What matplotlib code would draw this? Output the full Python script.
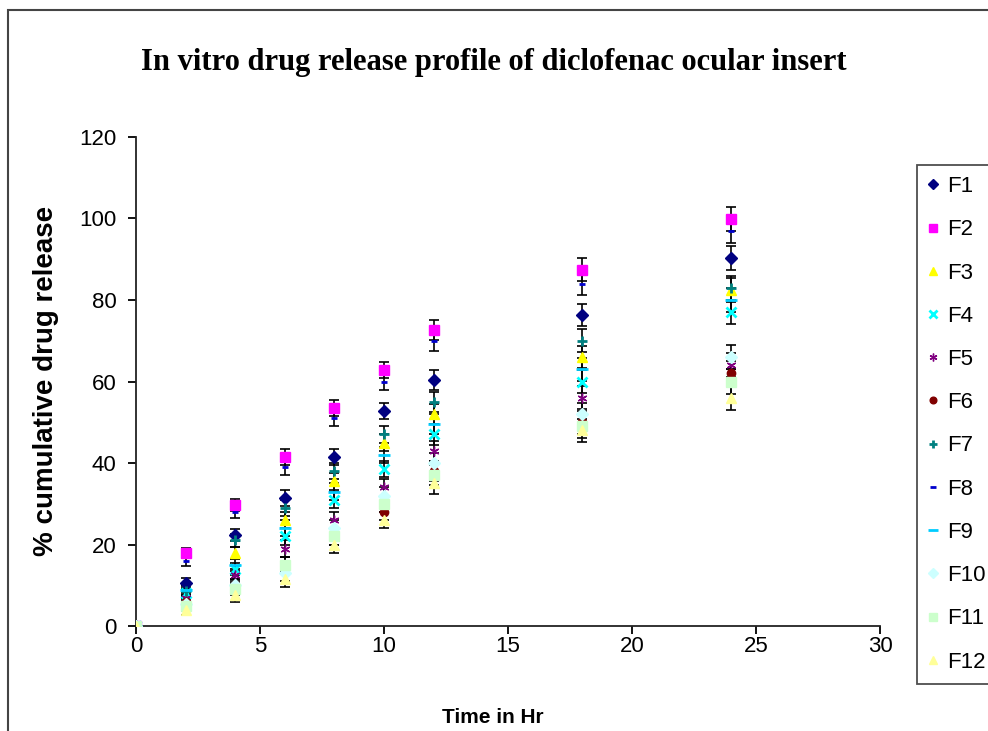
import matplotlib
matplotlib.use('Agg')
import matplotlib.pyplot as plt
from matplotlib.patches import Rectangle

# sampling times (hr)
time_hr = [0, 2, 4, 6, 8, 10, 12, 18, 24]

# % cumulative drug release
f1 = [0, 10.5, 22.3, 31.4, 41.5, 52.8, 60.4, 76.3, 90.3]
f2 = [0, 17.9, 29.7, 41.5, 53.5, 62.8, 72.6, 87.4, 99.9]
f3 = [0, 6.5, 18.0, 26.0, 35.5, 45.0, 52.0, 66.0, 82.5]
f4 = [0, 8.0, 14.0, 22.0, 31.0, 38.5, 47.0, 60.0, 77.0]
f5 = [0, 7.0, 12.5, 19.0, 26.0, 34.0, 43.0, 56.0, 64.0]
f6 = [0, 6.0, 10.0, 15.0, 22.0, 28.0, 38.0, 50.0, 62.0]
f7 = [0, 8.5, 21.0, 29.0, 38.0, 47.0, 55.0, 70.0, 83.0]
f8 = [0, 16.0, 28.0, 39.0, 51.0, 60.0, 70.0, 84.0, 97.0]
f9 = [0, 8.8, 15.0, 24.0, 33.0, 42.0, 49.5, 63.0, 80.0]
f10 = [0, 5.5, 10.0, 13.0, 24.0, 32.0, 40.0, 52.0, 66.0]
f11 = [0, 5.0, 9.0, 15.0, 22.0, 30.0, 37.0, 49.0, 60.0]
f12 = [0, 4.0, 7.5, 11.5, 20.0, 26.0, 35.0, 48.0, 56.0]

# standard deviation per time point (approx.)
sd = [0, 1.2, 1.5, 2.0, 2.0, 2.0, 2.5, 2.8, 3.0]

labels = ['F1', 'F2', 'F3', 'F4', 'F5', 'F6', 'F7', 'F8', 'F9', 'F10', 'F11', 'F12']
series = [f1, f2, f3, f4, f5, f6, f7, f8, f9, f10, f11, f12]
colors = ['#000080', '#FF00FF', '#FFFF00', '#00FFFF', '#800080', '#800000',
          '#008080', '#0000CC', '#00CCFF', '#CCFFFF', '#CCFFCC', '#FFFF99']
markers = ['D', 's', '^', 'x', (6, 2, 0), 'o', '+', '_', '_', 'D', 's', '^']
msizes = [6, 7, 7, 7, 7, 6, 7, 5, 9, 6, 7, 7]

sans = ['Liberation Sans', 'DejaVu Sans']

fig = plt.figure(figsize=(9.88, 7.31), dpi=100)
ax = fig.add_axes([0.1377, 0.1436, 0.753, 0.669])

for vals, lab, col, mk, ms in zip(series, labels, colors, markers, msizes):
    ax.errorbar(time_hr, vals, yerr=sd, fmt='none', ecolor='black',
                elinewidth=1.2, capsize=3.5, capthick=1.2, zorder=2)
    ax.plot(time_hr, vals, linestyle='none', marker=mk, color=col,
            markersize=ms, markeredgewidth=2 if mk in ('x', '+', '_') else 1,
            label=lab, zorder=3)

ax.set_xlim(0, 30)
ax.set_ylim(0, 120)
ax.set_xticks([0, 5, 10, 15, 20, 25, 30])
ax.set_yticks([0, 20, 40, 60, 80, 100, 120])
ax.spines['top'].set_visible(False)
ax.spines['right'].set_visible(False)
for s in ('left', 'bottom'):
    ax.spines[s].set_linewidth(1.3)
    ax.spines[s].set_color('#222222')
ax.tick_params(direction='out', length=6, width=1.3, labelsize=16)
ax.tick_params(axis='y', pad=8)
ax.tick_params(axis='x', pad=1)
for t in ax.get_xticklabels() + ax.get_yticklabels():
    t.set_family(sans)

fig.text(0.5, 0.915, 'In vitro drug release profile of diclofenac ocular insert',
         ha='center', va='center', fontsize=22, fontweight='bold',
         family=['Liberation Serif', 'DejaVu Serif'])
fig.text(0.047, 0.479, '% cumulative drug release', rotation=90,
         ha='center', va='center', fontsize=20, fontweight='bold',
         family=sans)
fig.text(0.499, 0.019, 'Time in Hr', ha='center', va='center',
         fontsize=15, fontweight='bold', family=sans)

leg = fig.legend(loc='upper left', bbox_to_anchor=(917 / 988, 1 - 165 / 731),
                 borderaxespad=0, frameon=True, fancybox=False,
                 edgecolor='#222222', prop={'family': sans, 'size': 16},
                 handlelength=0.4, handletextpad=0.45, labelspacing=1.0,
                 borderpad=0.5, markerscale=0.8)
leg.get_frame().set_linewidth(1.3)

fig.patches.append(Rectangle((8 / 988, -0.1), 1.2, 1.1 - 10 / 731,
                             transform=fig.transFigure, fill=False,
                             edgecolor='#444444', linewidth=1.5))

fig.savefig('out.png', dpi=100)
